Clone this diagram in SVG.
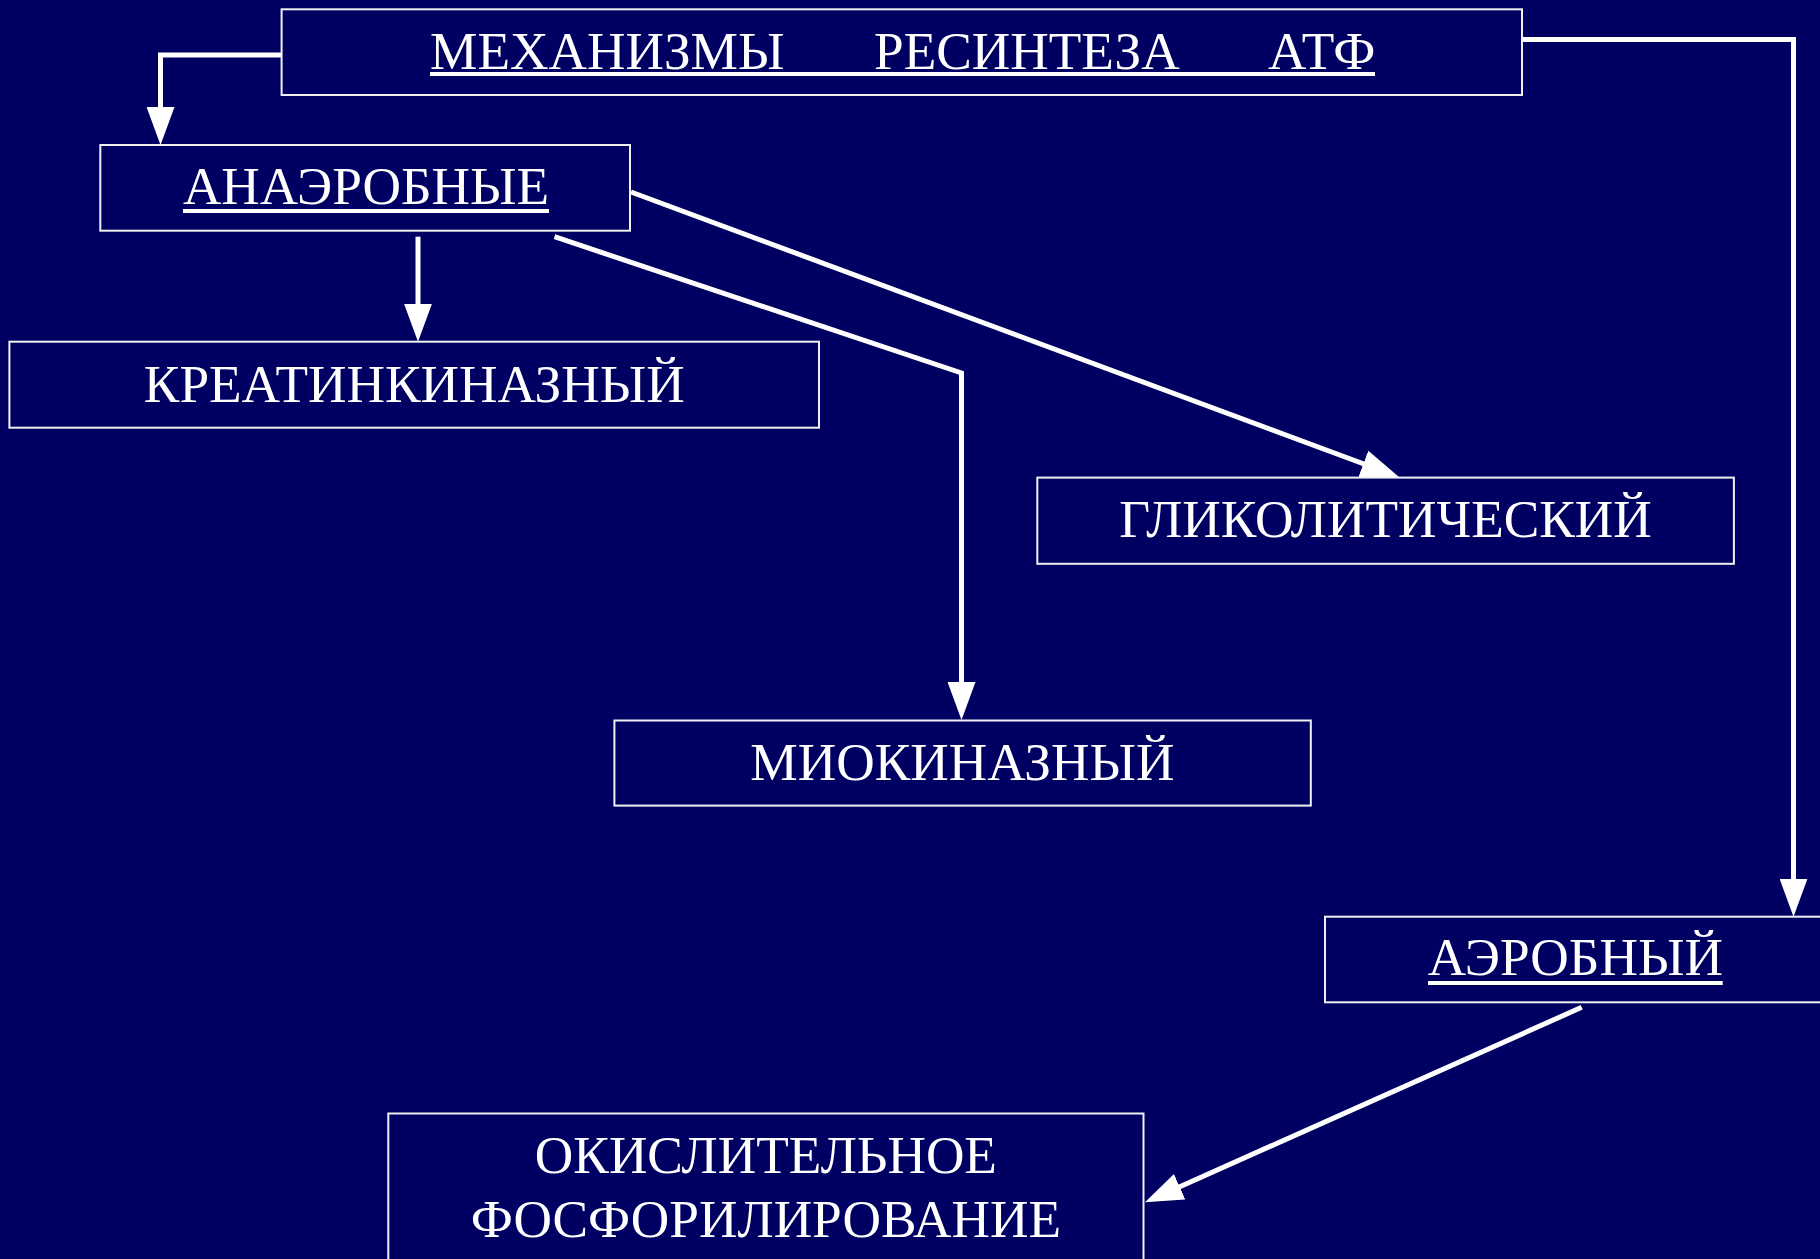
<svg xmlns="http://www.w3.org/2000/svg" width="1820" height="1259" viewBox="0 0 1820 1259">
<style>
.box{fill:none;stroke:#f0f0f4;stroke-width:2}
.lbl{font-family:"Liberation Serif","Times New Roman",serif;font-size:53.3px;fill:#ffffff}
.c{text-anchor:middle}
.ul{stroke:#ffffff;stroke-width:4}
.conn{fill:none;stroke:#ffffff;stroke-width:5}
</style>
<defs>
<marker id="arr" viewBox="0 0 38 28" refX="28" refY="14" markerWidth="38" markerHeight="28" markerUnits="userSpaceOnUse" orient="auto">
<path d="M0,0 L38,14 L0,28 z" fill="#ffffff"/>
</marker>
</defs>
<rect x="0" y="0" width="1820" height="1259" fill="#000062"/>

<g id="connectors">
<path class="conn" d="M282,55 H160.5 V135" marker-end="url(#arr)"/>
<path class="conn" d="M418,236.7 V331.7" marker-end="url(#arr)"/>
<path class="conn" d="M631,192 L1389.6,473.5" marker-end="url(#arr)"/>
<path class="conn" d="M554.5,236.7 L961.5,373 V710" marker-end="url(#arr)"/>
<path class="conn" d="M1522,39.5 H1793.5 V906.7" marker-end="url(#arr)"/>
<path class="conn" d="M1581.7,1007.3 L1154.1,1198.2" marker-end="url(#arr)"/>
</g>

<g id="node-title">
<rect class="box" x="281.6" y="9.3" width="1240.4" height="85.7"/>
<text class="lbl" y="69"><tspan x="430">МЕХАНИЗМЫ</tspan><tspan x="874">РЕСИНТЕЗА</tspan><tspan x="1268">АТФ</tspan></text>
<line class="ul" x1="430" y1="74" x2="1375" y2="74"/>
</g>

<g id="node-anaerobic">
<rect class="box" x="100.3" y="145" width="529.7" height="85.7"/>
<text class="lbl c" x="366" y="204">АНАЭРОБНЫЕ</text>
<line class="ul" x1="183" y1="211" x2="549" y2="211"/>
</g>

<g id="node-creatine">
<rect class="box" x="9.4" y="341.7" width="809.6" height="86"/>
<text class="lbl c" x="414.3" y="401.7">КРЕАТИНКИНАЗНЫЙ</text>
</g>

<g id="node-glycolytic">
<rect class="box" x="1037.3" y="477.6" width="696.6" height="86.2"/>
<text class="lbl c" x="1385.6" y="536.6">ГЛИКОЛИТИЧЕСКИЙ</text>
</g>

<g id="node-myokinase">
<rect class="box" x="614.4" y="720.5" width="696.4" height="85.1"/>
<text class="lbl c" x="962.4" y="779.5">МИОКИНАЗНЫЙ</text>
</g>

<g id="node-aerobic">
<rect class="box" x="1325" y="916.7" width="500" height="85.6"/>
<text class="lbl c" x="1575.3" y="975.4">АЭРОБНЫЙ</text>
<line class="ul" x1="1428" y1="983" x2="1722.7" y2="983"/>
</g>

<g id="node-oxidative">
<rect class="box" x="388.3" y="1113.5" width="755.2" height="160"/>
<text class="lbl c" x="765.9" y="1172.7">ОКИСЛИТЕЛЬНОЕ</text>
<text class="lbl c" x="765.9" y="1236.7">ФОСФОРИЛИРОВАНИЕ</text>
</g>
</svg>
